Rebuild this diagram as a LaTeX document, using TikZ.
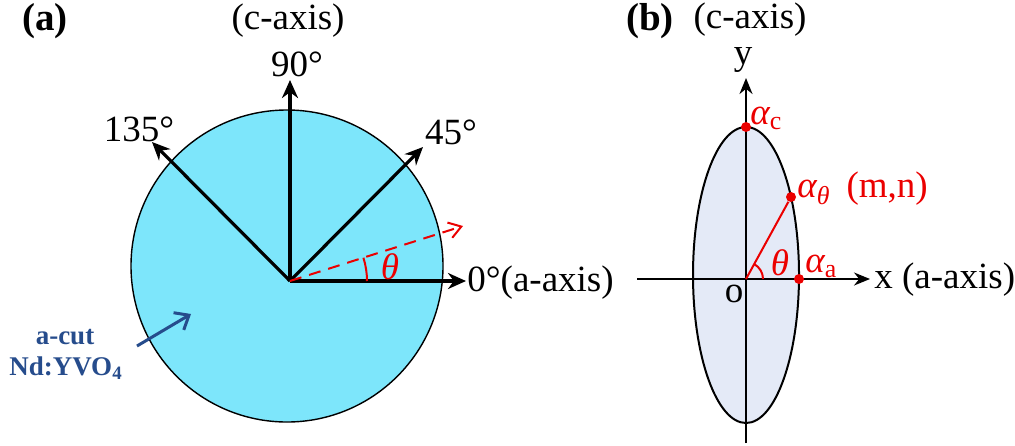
\documentclass[tikz,border=0pt]{standalone}
\usepackage{fontspec}
\setmainfont{Liberation Serif}
\usetikzlibrary{arrows.meta}
\definecolor{disc}{RGB}{125,230,251}
\definecolor{ellfill}{RGB}{228,234,247}
\definecolor{navy}{RGB}{38,76,140}
\definecolor{myred}{RGB}{235,0,0}
\begin{document}
\begin{tikzpicture}[x=0.5pt,y=-0.5pt,
  lbl/.style={font=\fontsize{18.5}{21}\selectfont, inner sep=0pt},
  bold/.style={font=\fontsize{19.5}{22}\selectfont\bfseries, inner sep=0pt},
  rlbl/.style={font=\fontsize{18.5}{21}\selectfont, text=myred, inner sep=0pt},
  blbl/.style={font=\fontsize{13.5}{15}\selectfont\bfseries, text=navy, inner sep=0pt},
  axarrow/.style={line width=1.6pt, -{Stealth[length=9pt,width=8pt]}},
  thinax/.style={line width=1pt, -{Stealth[length=8pt,width=6.5pt]}},
  dot/.style={circle, fill=myred, inner sep=0pt, minimum size=5pt}]
\useasboundingbox (0,0) rectangle (1015,445);
% ---------- (a)
\node[bold] (la) at (45,21) {(a)};
\node[lbl] (ca) at (288,21) {(c-axis)};
\fill[disc] (287,266) circle [radius=156];
\draw[line width=0.7pt] (287,266) circle [radius=156];
\coordinate (O) at (290,281);
\coordinate (t0) at (466,281);
\coordinate (t45) at (423,147);
\coordinate (t90) at (290,80);
\coordinate (t135) at (152,142);
\coordinate (td) at (463,226);
\draw[axarrow] (O) -- (t0);
\draw[axarrow] (O) -- (t45);
\draw[axarrow] (O) -- (t90);
\draw[axarrow] (O) -- (t135);
\draw[myred, line width=1pt, dash pattern=on 6pt off 4pt, -{Straight Barb[length=6pt,width=8pt]}] (O) -- (td);
\draw[myred, line width=1pt] ([shift={(0:77)}]O) arc[start angle=0, end angle=-17.6, radius=77];
\node[rlbl, font=\fontsize{18.5}{21}\selectfont\itshape] (tha) at (390,267) {θ};
\node[lbl, anchor=west] (l0) at (467,283) {0°(a-axis)};
\node[lbl] (l45) at (451,132) {45°};
\node[lbl] (l90) at (297,64) {90°};
\node[lbl] (l135) at (139,129) {135°};
\node[blbl] (cut) at (65,337) {a-cut};
\node[blbl] (nd) at (66,368) {Nd:YVO\textsubscript{4}};
\coordinate (bs) at (137,346);
\coordinate (be) at (191,314);
\draw[navy, line width=1.5pt, -{Straight Barb[length=6pt,width=10pt]}] (bs) -- (be);
% ---------- (b)
\node[bold] (lb) at (650,21) {(b)};
\node[lbl] (cb) at (750,20) {(c-axis)};
\coordinate (P) at (746,279);
\fill[ellfill] (746,275) ellipse [x radius=53, y radius=148];
\draw[line width=1pt] (746,275) ellipse [x radius=53, y radius=148];
\coordinate (xs) at (637,279);
\coordinate (xe) at (870,279);
\coordinate (ys) at (746,443);
\coordinate (ye) at (746,78);
\draw[thinax] (xs) -- (xe);
\draw[thinax] (ys) -- (ye);
\node[lbl, anchor=west] (xl) at (874,280) {x (a-axis)};
\node[lbl] (yl) at (743,60) {y};
\node[lbl] (ol) at (734,294) {o};
\node[dot] (ac) at (746,127) {};
\node[dot] (aa) at (799,279) {};
\node[dot] (at) at (791,197) {};
\draw[myred, line width=1pt] (P) -- (at);
\draw[myred, line width=1pt] ([shift={(0:17)}]P) arc[start angle=0, end angle=-61, radius=17];
\node[rlbl, font=\fontsize{18.5}{21}\selectfont\itshape] (thb) at (780,263) {θ};
\node[rlbl, anchor=west] (acl) at (750,118) {{\itshape α}\textsubscript{c}};
\node[rlbl, anchor=west] (atl) at (797,189) {{\itshape α}\textsubscript{\itshape θ}\hspace{8pt}(m,n)};
\node[rlbl, anchor=west] (aal) at (805,266) {{\itshape α}\textsubscript{a}};
\end{tikzpicture}
\end{document}
